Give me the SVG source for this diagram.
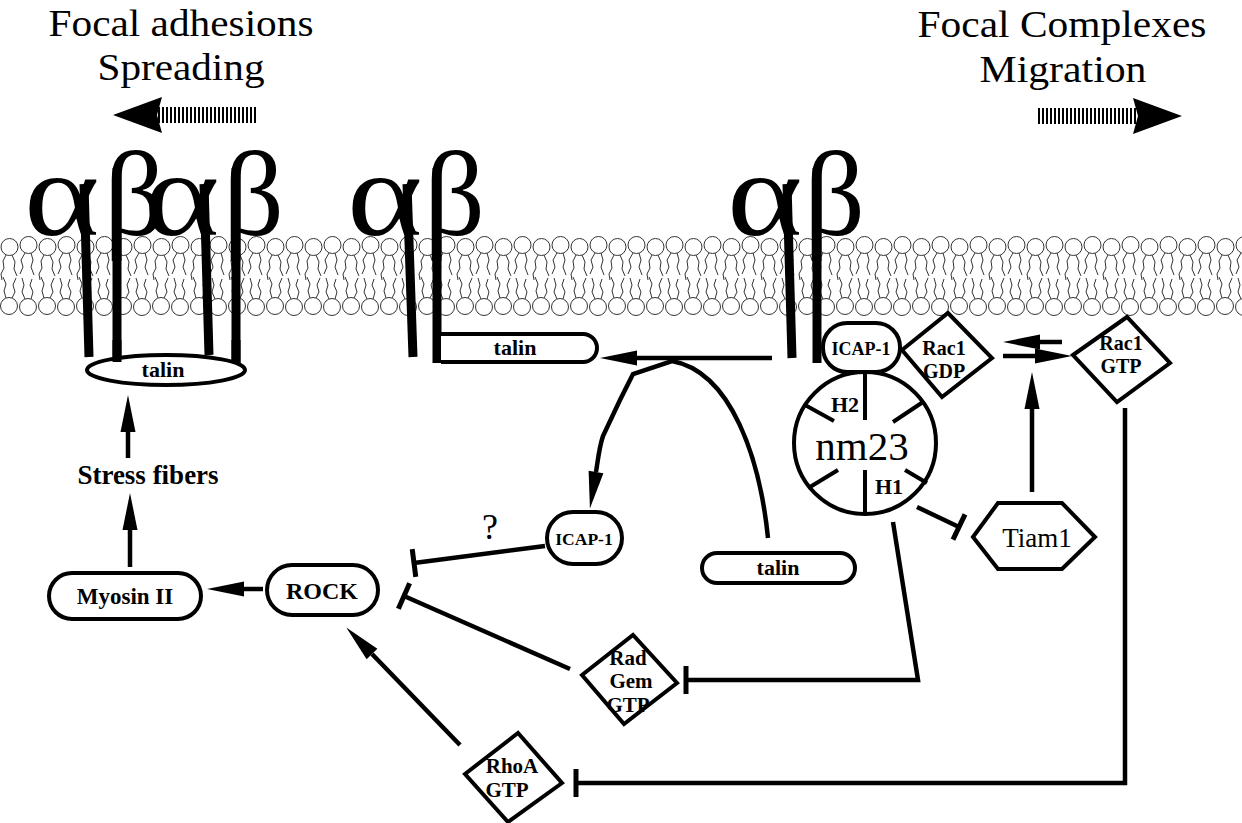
<svg xmlns="http://www.w3.org/2000/svg" width="1242" height="823" viewBox="0 0 1242 823">
  <style>
    .node { fill: #fff; stroke: #000; stroke-width: 4; }
    .lbl { font-family: "Liberation Serif", "Times New Roman", serif; font-weight: bold; text-anchor: middle; fill: #000; }
    .rom { font-family: "Liberation Serif", "Times New Roman", serif; text-anchor: middle; fill: #000; }
    .greek { font-family: "Liberation Serif", "Times New Roman", serif; font-size: 120px; fill: #000; }
    .stem { stroke: #000; stroke-width: 9; stroke-linecap: butt; fill: none; }
    .wire { fill: none; stroke: #000; stroke-width: 4.5; stroke-linejoin: miter; }
    .act { marker-end: url(#head); }
    .inh { marker-end: url(#tee); }
  </style>
  <defs>
    <marker id="head" viewBox="-1 -8 41 16" markerUnits="userSpaceOnUse" markerWidth="41" markerHeight="16" refX="0" refY="0" orient="auto">
      <path d="M0,-7.5 L37,0 L0,7.5 Z" fill="#000"/>
    </marker>
    <marker id="tee" viewBox="-3 -15 6 30" markerUnits="userSpaceOnUse" markerWidth="6" markerHeight="30" refX="0" refY="0" orient="auto">
      <line x1="0" y1="-14" x2="0" y2="14" stroke="#000" stroke-width="5"/>
    </marker>
    <!-- one repeat of the phospholipid bilayer -->
    <pattern id="lipids" patternUnits="userSpaceOnUse" x="0" y="0" width="38" height="823">
      <g fill="none" stroke="#333" stroke-width="1">
        <path d="M6,255 l-3,6 l1,7 l-3,6 l1,6 M12,255 l3,7 l-1,7 l3,7"/>
        <path d="M25,253 l-4,7 l2,7 l-3,7 M31,253 l2,7 l-2,7 l3,8"/>
        <path d="M6,298 l-2,-7 l2,-7 l-3,-7 M12,298 l3,-6 l-2,-7 l3,-7"/>
        <path d="M25,299 l-3,-7 l2,-7 l-2,-7 M31,299 l2,-7 l-3,-7 l2,-6"/>
      </g>
      <g fill="#fff" stroke="#333" stroke-width="1">
        <circle cx="9.5" cy="247" r="8.5"/>
        <circle cx="28.5" cy="245" r="8.5"/>
        <circle cx="9" cy="306" r="8.5"/>
        <circle cx="28" cy="307" r="8.5"/>
      </g>
    </pattern>
  </defs>

  <rect width="1242" height="823" fill="#fff"/>

  <!-- headings and direction arrows -->
  <g id="heading-left">
    <text class="rom" x="181" y="36" font-size="37" textLength="265" lengthAdjust="spacingAndGlyphs">Focal adhesions</text>
    <text class="rom" x="181" y="80" font-size="37" textLength="167" lengthAdjust="spacingAndGlyphs">Spreading</text>
    <line x1="158" y1="115" x2="257" y2="115" stroke="#000" stroke-width="16" stroke-dasharray="2 2"/>
    <path d="M113,115 L162,97 L157,115 L162,133 Z" fill="#000"/>
  </g>
  <g id="heading-right">
    <text class="rom" x="1062" y="37" font-size="38" textLength="289" lengthAdjust="spacingAndGlyphs">Focal Complexes</text>
    <text class="rom" x="1063" y="82" font-size="38" textLength="167" lengthAdjust="spacingAndGlyphs">Migration</text>
    <line x1="1038" y1="116" x2="1138" y2="116" stroke="#000" stroke-width="16" stroke-dasharray="2 2"/>
    <path d="M1182,116 L1133,98 L1138,116 L1133,134 Z" fill="#000"/>
  </g>

  <!-- plasma membrane -->
  <g id="membrane">
    <rect x="0" y="236" width="1242" height="82" fill="url(#lipids)"/>
  </g>

  <!-- integrin heterodimers: glyph heads with thick transmembrane tails -->
  <g id="integrins-clustered">
    <text class="greek" transform="translate(24,235) scale(1.2,1)">α</text>
    <text class="greek" x="104" y="235">β</text>
    <text class="greek" transform="translate(144,235) scale(1.2,1)">α</text>
    <text class="greek" x="223" y="235">β</text>
    <line class="stem" x1="84" y1="184" x2="89" y2="357"/>
    <line class="stem" x1="117" y1="168" x2="117" y2="362"/>
    <line class="stem" x1="204" y1="184" x2="209" y2="355"/>
    <line class="stem" x1="236" y1="168" x2="236" y2="363"/>
  </g>
  <g id="integrin-middle">
    <text class="greek" transform="translate(347,235) scale(1.2,1)">α</text>
    <text class="greek" x="424" y="235">β</text>
    <line class="stem" x1="407" y1="184" x2="413" y2="357"/>
    <line class="stem" x1="437" y1="168" x2="437" y2="363"/>
  </g>
  <g id="integrin-right">
    <text class="greek" transform="translate(727,235) scale(1.2,1)">α</text>
    <text class="greek" x="804" y="235">β</text>
    <line class="stem" x1="787" y1="184" x2="792" y2="358"/>
    <line class="stem" x1="817" y1="168" x2="817" y2="363"/>
  </g>

  <!-- connectors -->
  <g id="connectors">
    <line class="wire act" x1="128" y1="458" x2="128" y2="432"/>
    <line class="wire act" x1="130" y1="567" x2="130" y2="530"/>
    <line class="wire act" x1="263" y1="589" x2="244" y2="589"/>
    <line class="wire act" x1="772" y1="358" x2="637" y2="358"/>
    <path class="wire act" d="M768,538 C760,460 732,372 672,361 L633,374 L620,400 L603,436 C599,448 598,460 596,472"/>
    <line class="wire act" x1="460" y1="745" x2="372" y2="654"/>
    <line class="wire act" x1="1032" y1="492" x2="1032" y2="409"/>
    <line class="wire act" x1="1062" y1="342" x2="1040" y2="342"/>
    <line class="wire act" x1="1003" y1="356" x2="1035" y2="356"/>
    <text class="rom" x="490" y="539" font-size="36">?</text>
    <line class="wire inh" x1="545" y1="546" x2="414" y2="563"/>
    <line class="wire inh" x1="570" y1="669" x2="404" y2="596"/>
    <path class="wire inh" d="M893,522 L918,680 L686,680"/>
    <line class="wire inh" x1="917" y1="507" x2="959" y2="527"/>
    <path class="wire inh" d="M1125,408 L1125,783 L576,783"/>
  </g>

  <!-- nodes -->
  <g id="talin-clustered">
    <ellipse class="node" cx="166" cy="370" rx="79" ry="15"/>
    <line class="stem" x1="117" y1="340" x2="117" y2="362"/>
    <line class="stem" x1="236" y1="340" x2="236" y2="363"/>
    <text class="lbl" x="163" y="377" font-size="22">talin</text>
  </g>
  <g id="talin-bound">
    <path class="node" d="M441,334 H583 A14,14 0 0 1 583,362 H441"/>
    <text class="lbl" x="515" y="355" font-size="22">talin</text>
  </g>
  <g id="talin-free">
    <rect class="node" x="702" y="553" width="153" height="30" rx="15"/>
    <text class="lbl" x="778" y="575" font-size="22">talin</text>
  </g>
  <g id="stress-fibers">
    <text class="lbl" x="148" y="484" font-size="27">Stress fibers</text>
  </g>
  <g id="myosin">
    <rect class="node" x="49" y="573" width="152" height="46" rx="23"/>
    <text class="lbl" x="125" y="604" font-size="23">Myosin II</text>
  </g>
  <g id="rock">
    <rect class="node" x="267" y="565" width="111" height="50" rx="25"/>
    <text class="lbl" x="322" y="599" font-size="24">ROCK</text>
  </g>
  <g id="icap1-free">
    <rect class="node" x="547" y="512" width="75" height="52" rx="26"/>
    <text class="lbl" x="584" y="545" font-size="17.5">ICAP-1</text>
  </g>
  <g id="nm23">
    <circle class="node" cx="865" cy="443" r="71"/>
    <g stroke="#000" stroke-width="4">
      <line x1="865" y1="372" x2="865" y2="420"/>
      <line x1="865" y1="470" x2="865" y2="514"/>
      <line x1="805" y1="405" x2="834" y2="421"/>
      <line x1="923" y1="402" x2="893" y2="422"/>
      <line x1="810" y1="487" x2="838" y2="470"/>
      <line x1="927" y1="483" x2="905" y2="470"/>
    </g>
    <text class="lbl" x="845" y="412" font-size="22">H2</text>
    <text class="lbl" x="889" y="494" font-size="22">H1</text>
    <text class="rom" x="862" y="460" font-size="41">nm23</text>
  </g>
  <g id="icap1-bound">
    <rect class="node" x="823" y="323" width="77" height="49" rx="24"/>
    <text class="lbl" x="861" y="355" font-size="18">ICAP-1</text>
  </g>
  <g id="rac1-gdp">
    <polygon class="node" points="902,350 948,313 992,358 942,397"/>
    <text class="lbl" x="944" y="355" font-size="20">Rac1</text>
    <text class="lbl" x="944" y="378" font-size="20">GDP</text>
  </g>
  <g id="rac1-gtp">
    <polygon class="node" points="1073,355 1127,317 1170,363 1117,402"/>
    <text class="lbl" x="1121" y="350" font-size="20">Rac1</text>
    <text class="lbl" x="1121" y="373" font-size="20">GTP</text>
  </g>
  <g id="tiam1">
    <polygon class="node" points="973,537 998,503 1062,503 1095,537 1062,569 998,569"/>
    <text class="rom" x="1037" y="547" font-size="27">Tiam1</text>
  </g>
  <g id="rad-gem">
    <polygon class="node" points="582,675 633,635 677,683 624,724"/>
    <text class="lbl" x="628" y="665" font-size="21">Rad</text>
    <text class="lbl" x="631" y="688" font-size="21">Gem</text>
    <text class="lbl" x="628" y="712" font-size="21">GTP</text>
  </g>
  <g id="rhoa">
    <polygon class="node" points="465,774 518,733 562,783 508,822"/>
    <text class="lbl" x="512" y="773" font-size="21">RhoA</text>
    <text class="lbl" x="507" y="797" font-size="21">GTP</text>
  </g>
</svg>
